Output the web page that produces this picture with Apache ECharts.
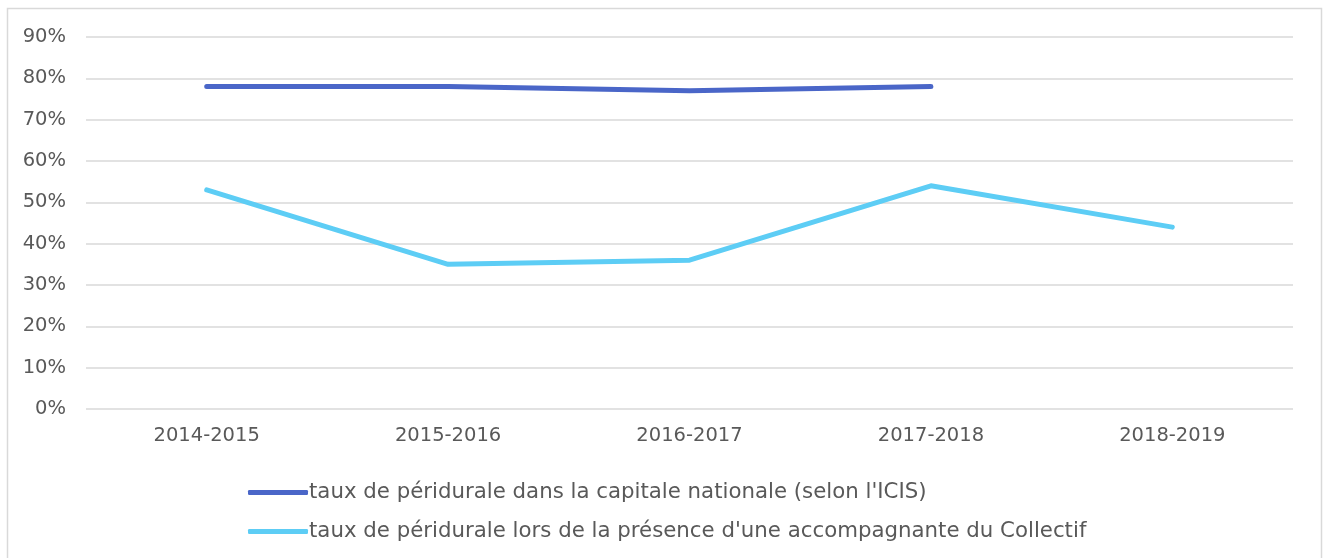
<!DOCTYPE html>
<html><head><meta charset="utf-8">
<script src="https://cdn.jsdelivr.net/npm/echarts@6/dist/echarts.min.js"></script>
<style>html,body{margin:0;padding:0;background:#fff}#c{width:1327px;height:558px}</style>
</head><body><div id="c"></div>
<script>
const categories = ['2014-2015','2015-2016','2016-2017','2017-2018','2018-2019'];
const seriesNames = ["taux de péridurale dans la capitale nationale (selon l'ICIS)", "taux de péridurale lors de la présence d'une accompagnante du Collectif"];
const icisValues = [78, 78, 77, 78, null];
const collectifValues = [53, 35, 36, 54, 44];
const yTicks = [0, 10, 20, 30, 40, 50, 60, 70, 80, 90];

const font = 'DejaVu Sans';
const fs = 19.5;
const chart = echarts.init(document.getElementById('c'));
chart.setOption({
  animation: false,
  graphic: [{type:'rect', shape:{x:7.5,y:8.5,width:1314,height:560}, style:{fill:'none', stroke:'#d9d9d9', lineWidth:1.5}, silent:true}],
  grid: {left: 86, right: 34, top: 37, bottom: 149, containLabel: false},
  legend: {
    orient: 'vertical', left: 243, top: 477, itemGap: 18, itemWidth: 60, itemHeight: 5,
    icon: 'roundRect', textStyle: {fontFamily: font, fontSize: 21.3, color: '#595959', padding:[0,0,0,-4]},
    data: seriesNames
  },
  xAxis: {
    type: 'category', data: categories, boundaryGap: true,
    axisLine: {show: false}, axisTick: {show: false},
    axisLabel: {fontFamily: font, fontSize: fs, color: '#595959', margin: 17}
  },
  yAxis: {
    type: 'value', min: 0, max: 90, interval: 10,
    axisLine: {show: false}, axisTick: {show: false},
    splitLine: {lineStyle: {color: '#d9d9d9', width: 1.5}},
    axisLabel: {fontFamily: font, fontSize: fs, color: '#595959', margin: 20,
      formatter: v => yTicks.includes(v) ? v + '%' : ''}
  },
  series: [
    {name: seriesNames[0], type: 'line', data: icisValues, symbol: 'none', connectNulls: false,
     lineStyle: {width: 5, color: '#4a66c8', cap: 'round', join: 'round'}, itemStyle: {color: '#4a66c8'}},
    {name: seriesNames[1], type: 'line', data: collectifValues, symbol: 'none',
     lineStyle: {width: 5, color: '#5dcdf5', cap: 'round', join: 'round'}, itemStyle: {color: '#5dcdf5'}}
  ]
});
</script></body></html>
